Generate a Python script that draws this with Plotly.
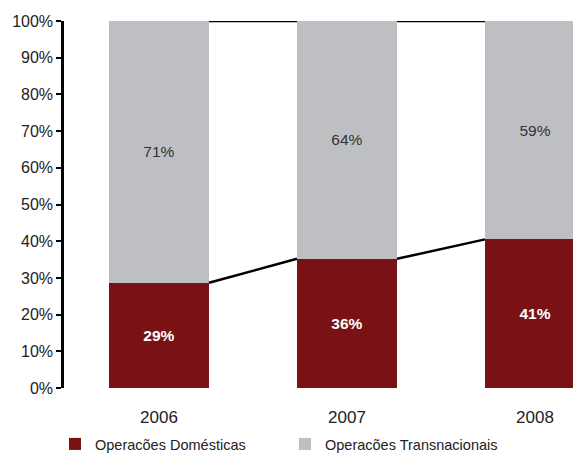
import plotly.graph_objects as go

years = ["2006", "2007", "2008"]
domestic = [28.7, 35.2, 40.5]
transnational = [71.3, 64.8, 59.5]
domestic_labels = ["29%", "36%", "41%"]
transnational_labels = ["71%", "64%", "59%"]
y_ticks = [0, 10, 20, 30, 40, 50, 60, 70, 80, 90, 100]
y_tick_labels = [f"{v}%" for v in y_ticks]

RED = "#7A1215"
GRAY = "#BEBFC3"
BAR_W = 0.532
FONT = "Liberation Sans, Arial, sans-serif"

fig = go.Figure()
xi = list(range(len(years)))
fig.add_trace(go.Bar(
    x=xi, y=domestic, name="Operacões Domésticas", marker=dict(color=RED, line=dict(width=0)),
    width=BAR_W, text=domestic_labels, textposition="inside", insidetextanchor="middle",
    textangle=0, constraintext="none",
    textfont=dict(color="white", size=15.5, family="Liberation Sans, Arial", weight="bold"),
))
fig.add_trace(go.Bar(
    x=xi, y=transnational, name="Operacões Transnacionais", marker=dict(color=GRAY, line=dict(width=0)),
    width=BAR_W, text=transnational_labels, textposition="inside", insidetextanchor="middle",
    textangle=0, constraintext="none",
    textfont=dict(color="#333333", size=15.5, family=FONT),
))

# series lines between bars
half = BAR_W / 2
for i in range(len(years) - 1):
    fig.add_trace(go.Scatter(
        x=[xi[i] + half, xi[i + 1] - half], y=[domestic[i], domestic[i + 1]],
        mode="lines", line=dict(color="black", width=2.5), showlegend=False,
        hoverinfo="skip", cliponaxis=False))
    tops = [domestic[i] + transnational[i], domestic[i + 1] + transnational[i + 1]]
    fig.add_trace(go.Scatter(
        x=[xi[i] + half, xi[i + 1] - half], y=tops,
        mode="lines", line=dict(color="black", width=2.5), showlegend=False,
        hoverinfo="skip", cliponaxis=False))

fig.update_layout(
    barmode="stack",
    width=573, height=456,
    margin=dict(l=64, r=0, t=21, b=68, autoexpand=False),
    paper_bgcolor="white", plot_bgcolor="white",
    font=dict(family=FONT, size=16, color="#222222"),
    showlegend=True,
    legend=dict(orientation="h", xref="container", x=55 / 573, xanchor="left",
                yref="container", y=1 - 428 / 456, yanchor="top",
                font=dict(size=14.5, color="#222222"), entrywidth=185,
                traceorder="normal"),
    xaxis=dict(range=[-0.505, 2.202], tickmode="array", tickvals=xi, ticktext=years,
               showgrid=False, zeroline=False, showline=False, automargin=False,
               ticks="outside", ticklen=14, tickcolor="rgba(0,0,0,0)",
               tickfont=dict(size=17, color="#222222")),
    yaxis=dict(range=[0, 100], tickmode="array", tickvals=y_ticks, ticktext=y_tick_labels,
               showgrid=False, zeroline=False, showline=True, linecolor="black", linewidth=2.5,
               automargin=False,
               ticks="outside", ticklen=5, tickwidth=2, tickcolor="black",
               tickfont=dict(size=16, color="#222222")),
)

fig.write_html("out.html", config={"displayModeBar": False},
               post_script="document.body.style.margin='0';document.body.style.overflow='hidden';")
